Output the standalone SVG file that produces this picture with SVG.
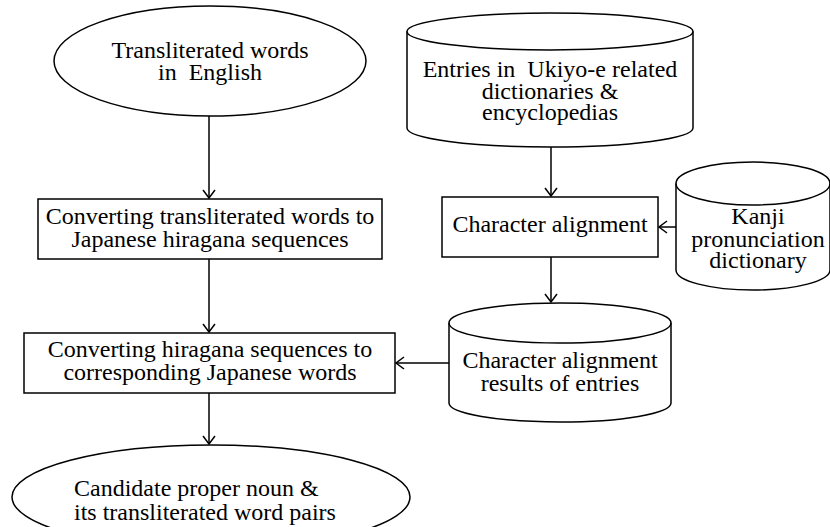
<svg xmlns="http://www.w3.org/2000/svg" width="830" height="527" viewBox="0 0 830 527">
<defs>
<style>
.s{fill:#fff;stroke:#000;stroke-width:1.5}
.t{font-family:"Liberation Serif","Times New Roman",serif;font-size:24px;fill:#000;text-anchor:middle;white-space:pre}
.c{fill:none;stroke:#000;stroke-width:1.5}
</style>
<marker id="a" markerWidth="12" markerHeight="14" refX="10" refY="7" orient="auto" markerUnits="userSpaceOnUse">
<path d="M2,1 L10,7 L2,13" fill="none" stroke="#000" stroke-width="1.5"/>
</marker>
</defs>
<rect width="830" height="527" fill="#fff"/>
<g id="connectors">
<line class="c" x1="209" y1="116" x2="209" y2="198" marker-end="url(#a)"/>
<line class="c" x1="209" y1="259" x2="209" y2="332" marker-end="url(#a)"/>
<line class="c" x1="209" y1="393" x2="209" y2="444" marker-end="url(#a)"/>
<line class="c" x1="551" y1="147" x2="551" y2="196" marker-end="url(#a)"/>
<line class="c" x1="676" y1="227" x2="659" y2="227" marker-end="url(#a)"/>
<line class="c" x1="551" y1="257" x2="551" y2="302" marker-end="url(#a)"/>
<line class="c" x1="449" y1="363" x2="396" y2="363" marker-end="url(#a)"/>
</g>
<g id="n1">
<ellipse class="s" cx="210" cy="61" rx="156" ry="55"/>
<text class="t" x="210" y="58">Transliterated words</text>
<text class="t" x="210" y="80">in  English</text>
</g>
<g id="n2">
<rect class="s" x="38" y="199" width="344" height="60"/>
<text class="t" x="210" y="224">Converting transliterated words to</text>
<text class="t" x="210" y="247">Japanese hiragana sequences</text>
</g>
<g id="n3">
<rect class="s" x="24" y="333" width="371" height="60"/>
<text class="t" x="210" y="357">Converting hiragana sequences to</text>
<text class="t" x="210" y="380">corresponding Japanese words</text>
</g>
<g id="n4">
<ellipse class="s" cx="211" cy="497" rx="199" ry="52"/>
<text class="t" x="74" y="496" style="text-anchor:start">Candidate proper noun &amp;</text>
<text class="t" x="74" y="520" style="text-anchor:start">its transliterated word pairs</text>
</g>
<g id="n5">
<path class="s" d="M407,31.5 L407,128 A143,19 0 0 0 693,128 L693,31.5 A143,18.5 0 0 0 407,31.5 Z"/>
<path class="c" d="M407,31.5 A143,18.5 0 0 0 693,31.5"/>
<text class="t" x="550" y="77">Entries in  Ukiyo-e related</text>
<text class="t" x="550" y="99">dictionaries &amp;</text>
<text class="t" x="550" y="120">encyclopedias</text>
</g>
<g id="n6">
<rect class="s" x="442" y="197" width="216" height="60"/>
<text class="t" x="550" y="232">Character alignment</text>
</g>
<g id="n7">
<path class="s" d="M676,183.5 L676,270 A77,20 0 0 0 830,270 L830,183.5 A77,21.5 0 0 0 676,183.5 Z"/>
<path class="c" d="M676,183.5 A77,21.5 0 0 0 830,183.5"/>
<text class="t" x="758" y="224">Kanji</text>
<text class="t" x="758" y="247">pronunciation</text>
<text class="t" x="758" y="268">dictionary</text>
</g>
<g id="n8">
<path class="s" d="M449,323 L449,403 A111,19 0 0 0 671,403 L671,323 A111,20 0 0 0 449,323 Z"/>
<path class="c" d="M449,323 A111,20 0 0 0 671,323"/>
<text class="t" x="560" y="368">Character alignment</text>
<text class="t" x="560" y="391">results of entries</text>
</g>
</svg>
